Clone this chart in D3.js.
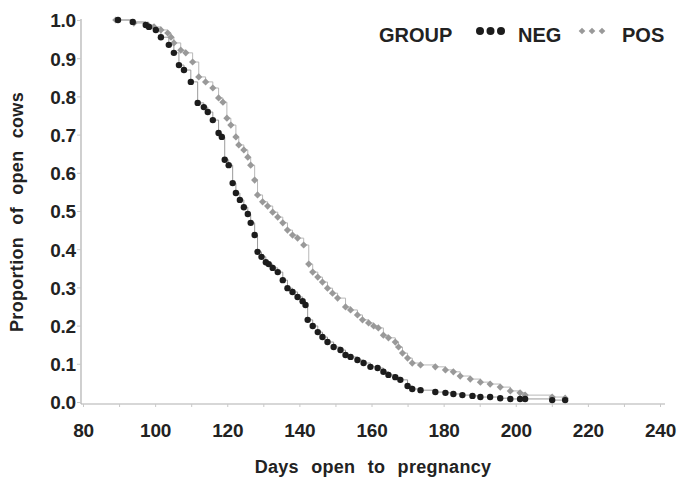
<!DOCTYPE html>
<html><head><meta charset="utf-8">
<script src="https://cdn.jsdelivr.net/npm/d3@7"></script>
<style>
body{margin:0;background:#fff;}
text{font-family:"Liberation Sans",Arial,Helvetica,sans-serif;font-weight:bold;fill:#222;}
</style></head>
<body><svg id="c" width="677" height="478"></svg>
<script>
const negDays = [89.7,93.8,97.4,98.3,100.2,101.6,103.8,105.2,106.6,108.0,109.9,111.8,113.5,114.6,116.0,117.6,118.5,119.3,120.4,121.5,122.4,123.5,124.6,125.7,126.5,127.6,128.4,129.5,130.7,131.5,132.6,134.0,135.4,136.7,138.1,139.5,140.9,141.7,142.3,143.7,145.1,146.4,147.8,149.5,151.4,152.8,154.2,156.1,157.8,159.7,161.7,163.3,164.7,166.6,168.0,170.0,171.3,173.6,177.7,180.5,182.7,185.2,188.0,190.2,192.9,195.7,198.5,201.2,202.6,210.1,213.7];
const negProp = [1.0,0.995,0.987,0.982,0.974,0.955,0.935,0.914,0.882,0.869,0.838,0.783,0.772,0.759,0.738,0.704,0.694,0.634,0.620,0.573,0.547,0.529,0.510,0.492,0.469,0.437,0.393,0.380,0.366,0.361,0.351,0.340,0.319,0.298,0.288,0.275,0.264,0.254,0.215,0.199,0.183,0.170,0.157,0.144,0.136,0.123,0.118,0.110,0.102,0.092,0.089,0.079,0.071,0.065,0.058,0.042,0.034,0.031,0.026,0.024,0.021,0.018,0.016,0.013,0.013,0.010,0.008,0.008,0.008,0.005,0.005];
const posDays = [89.1,94.1,98.0,99.7,101.6,103.5,104.4,105.2,107.1,108.5,110.4,112.1,114.0,116.0,117.6,118.8,119.9,121.0,122.4,123.2,124.6,125.7,126.5,127.6,128.4,129.8,131.2,132.6,134.0,135.4,136.7,138.1,139.5,141.2,142.6,143.7,145.1,146.4,147.8,149.2,150.6,152.8,154.2,156.1,157.5,159.2,160.6,161.9,163.3,164.7,166.6,167.5,168.6,170.0,171.3,173.6,177.7,180.5,182.7,184.6,187.4,190.2,192.9,195.7,198.5,201.2,202.6,210.1,213.7];
const posProp = [1.0,0.992,0.987,0.982,0.974,0.966,0.955,0.940,0.921,0.914,0.890,0.851,0.838,0.822,0.796,0.785,0.743,0.725,0.694,0.673,0.660,0.641,0.620,0.581,0.542,0.524,0.513,0.497,0.484,0.469,0.450,0.437,0.429,0.411,0.361,0.340,0.327,0.314,0.298,0.285,0.272,0.249,0.241,0.228,0.215,0.207,0.199,0.194,0.175,0.168,0.157,0.144,0.128,0.115,0.102,0.097,0.092,0.084,0.079,0.068,0.060,0.052,0.047,0.039,0.029,0.024,0.018,0.013,0.010];
const xTicks = [80,100,120,140,160,180,200,220,240];
const yTicks = [0,0.1,0.2,0.3,0.4,0.5,0.6,0.7,0.8,0.9,1.0];
const groups = ["NEG","POS"];

const svg = d3.select("#c");
const x = d3.scaleLinear().domain([80,240]).range([83,660]);
const y = d3.scaleLinear().domain([0,1]).range([402,20]);
const axisCol = "#b0b0b0";

// axis lines
svg.append("line").attr("x1",x(80)-2).attr("x2",x(240)+5).attr("y1",y(0)+2).attr("y2",y(0)+2).attr("stroke",axisCol).attr("stroke-width",1.2);
svg.append("line").attr("x1",x(80)-2).attr("x2",x(80)-2).attr("y1",y(1)-1).attr("y2",y(0)+2).attr("stroke",axisCol).attr("stroke-width",1.2);

// x axis
const xa = svg.append("g").attr("transform",`translate(0,${y(0)+2})`)
  .call(d3.axisBottom(x).tickValues(d3.range(80,241,10)).tickSize(3).tickFormat(d=>xTicks.includes(d)?d:""));
xa.select(".domain").remove();
xa.selectAll(".tick line").attr("stroke","#c8c8c8");
xa.selectAll(".tick text").attr("font-size",19).attr("dy",0).attr("y",33).attr("letter-spacing","-0.2px").attr("fill","#222");

// y axis
const ya = svg.append("g").attr("transform",`translate(${x(80)-2},0)`)
  .call(d3.axisLeft(y).tickValues(yTicks).tickSize(4).tickFormat(d3.format(".1f")));
ya.select(".domain").remove();
ya.selectAll(".tick line").attr("stroke","#c8c8c8");
ya.selectAll(".tick text").attr("font-size",19).attr("x",-5).attr("dy","0.36em").attr("letter-spacing","-0.2px").attr("fill","#222");

// titles
svg.append("text").attr("x",373).attr("y",473).attr("text-anchor","middle").attr("font-size",18).attr("word-spacing","7px").attr("letter-spacing","0.3px").text("Days open to pregnancy");
svg.append("text").attr("transform","translate(23,212) rotate(-90)").attr("text-anchor","middle").attr("font-size",18).attr("word-spacing","7px").attr("letter-spacing","0.3px").text("Proportion of open cows");

// step lines
const line = d3.line().curve(d3.curveStepAfter).x(d=>x(d[0])).y(d=>y(d[1]));
const neg = negDays.map((d,i)=>[d,negProp[i]]);
const pos = posDays.map((d,i)=>[d,posProp[i]]);
svg.append("path").datum(pos).attr("d",line).attr("fill","none").attr("stroke","#b8b8b8").attr("stroke-width",1);
svg.append("path").datum(neg).attr("d",line).attr("fill","none").attr("stroke","#9a9a9a").attr("stroke-width",1);

const diamond = d3.symbol().type(d3.symbolSquare).size(26);
svg.append("g").selectAll("path").data(pos).join("path")
  .attr("d",diamond).attr("transform",d=>`translate(${x(d[0])},${y(d[1])}) rotate(45)`).attr("fill","#999");
svg.append("g").selectAll("circle").data(neg).join("circle")
  .attr("cx",d=>x(d[0])).attr("cy",d=>y(d[1])).attr("r",3.2).attr("fill","#1c1c1c");

// legend
const lg = svg.append("g");
lg.append("text").attr("x",379).attr("y",42).attr("font-size",20).text("GROUP");
[480,490.5,501].forEach(cx=>lg.append("circle").attr("cx",cx).attr("cy",31).attr("r",4).attr("fill","#1c1c1c"));
lg.append("text").attr("x",518).attr("y",42).attr("font-size",20).text(groups[0]);
[582,592,602].forEach(cx=>lg.append("path").attr("d",d3.symbol().type(d3.symbolSquare).size(22)).attr("transform",`translate(${cx},31) rotate(45)`).attr("fill","#999"));
lg.append("text").attr("x",622).attr("y",42).attr("font-size",20).text(groups[1]);
</script></body></html>
